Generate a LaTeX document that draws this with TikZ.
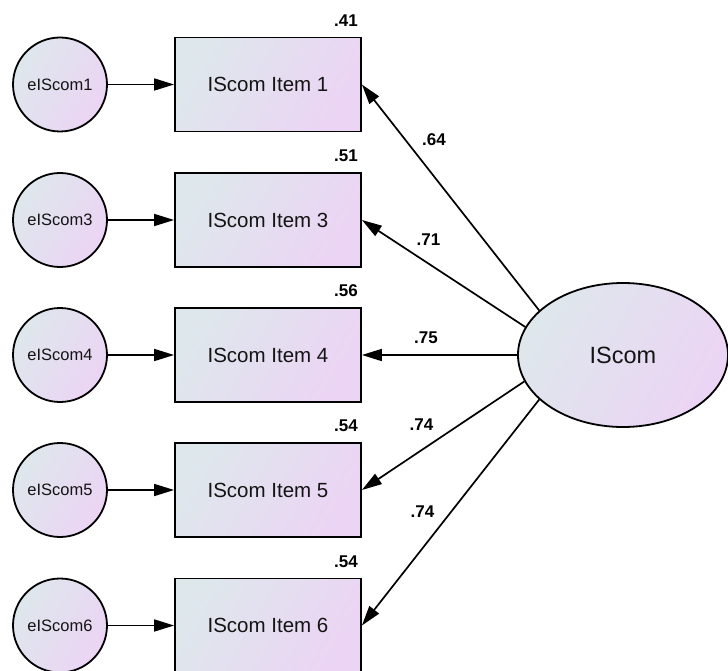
\documentclass[tikz,border=0pt]{standalone}
\usepackage{fontspec}
\setmainfont{Liberation Sans}
\usetikzlibrary{arrows.meta,shapes.geometric}

\definecolor{shadeA}{RGB}{222,231,236}
\definecolor{shadeB}{RGB}{236,212,244}
\definecolor{ink}{RGB}{20,20,20}

\tikzset{
  soft/.style={draw=black, line width=1.8pt, left color=shadeA, right color=shadeB, shading angle=60, text=ink},
  indicator/.style={soft, rectangle, minimum width=186pt, minimum height=94pt, inner sep=0pt, font=\fontsize{20.5}{22}\selectfont},
  errterm/.style={soft, circle, minimum size=94pt, inner sep=0pt, font=\fontsize{16.5}{18}\selectfont},
  factor/.style={soft, ellipse, minimum width=210pt, minimum height=144pt, inner sep=0pt, font=\fontsize{23.5}{25}\selectfont},
  arrowline/.style={draw=black, line width=1.7pt, -{Triangle[length=20pt,width=12pt]}},
  coef/.style={font=\bfseries\fontsize{17}{19}\selectfont, inner sep=0pt},
}

\begin{document}
\begin{tikzpicture}[x=1pt, y=-1pt]
  \useasboundingbox (0,0) rectangle (728,671);

  % latent factor
  \node[factor] (F) at (623,355) {IScom};

  % observed items, error terms and squared multiple correlations
  \foreach \k/\y/\rsq in {1/84.5/.41, 3/220/.51, 4/355/.56, 5/490/.54, 6/625.5/.54} {
    \node[indicator] (b\k) at (268,\y) {IScom Item \k};
    \node[errterm] (e\k) at (60,\y) {eIScom\k};
    \draw[arrowline] (e\k.east) -- (b\k.west);
    \node[coef, anchor=center] (r\k) at ([xshift=-16pt,yshift=16pt]b\k.north east) {\rsq};
  }

  % factor loadings
  \draw[arrowline] (F.152) -- (b1.east);
  \draw[arrowline] (F.164.5) -- (b3.east);
  \draw[arrowline] (F.180) -- (b4.east);
  \draw[arrowline] (F.195.5) -- (b5.east);
  \draw[arrowline] (F.208) -- (b6.east);

  \node[coef] (l1) at (434,140) {.64};
  \node[coef] (l3) at (428.5,240) {.71};
  \node[coef] (l4) at (426,338) {.75};
  \node[coef] (l5) at (421.5,425) {.74};
  \node[coef] (l6) at (422.5,512) {.74};
\end{tikzpicture}
\end{document}
